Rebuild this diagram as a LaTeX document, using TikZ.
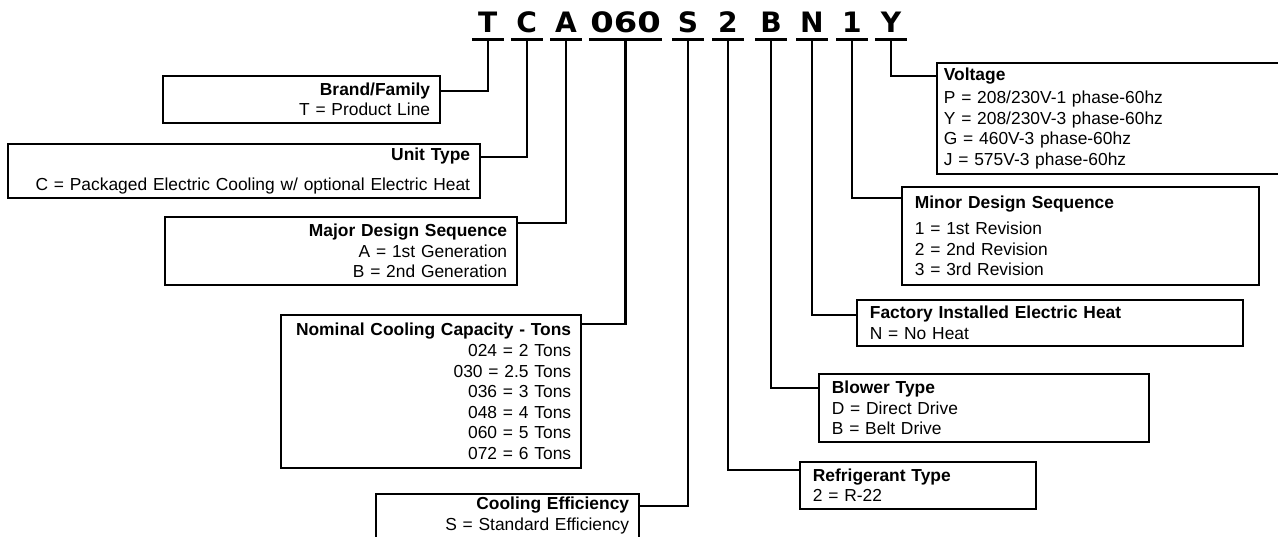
\documentclass[tikz,border=0pt]{standalone}
\usepackage{fontspec}
\setmainfont{Liberation Sans}
\newfontfamily\codefont{DejaVu Sans}
\usetikzlibrary{calc}
\tikzset{
  code/.style={font=\codefont\bfseries\fontsize{16}{16}\selectfont, anchor=base,
               inner xsep=0pt, inner ysep=0.12cm, minimum width=0.62cm},
  uline/.style={line width=1.5pt},
  box/.style={draw, line width=1pt, inner ysep=0pt,
              font=\fontsize{9.9}{11.7}\selectfont},
  lbox/.style={box, anchor=north east, align=right, inner xsep=0.2cm},
  rbox/.style={box, anchor=north west, align=left, inner xsep=0.26cm},
  link/.style={line width=1.3pt},
}

\begin{document}
\begin{tikzpicture}[x=0.02cm, y=-0.02cm]
\useasboundingbox (0,0) rectangle (1278,537);
\clip (0,0) rectangle (1278,537);

% ── Model number ──────────────────────────────────────────────────────────────
\node[code] (cBrand) at (487.7,33) {T};
\node[code] (cUnit)  at (526.7,33) {C};
\node[code] (cMajor) at (566,33)   {A};
\node[code, minimum width=1.44cm] (cCap) at (625.5,33) {\scalebox{1.2}[1]{060}};
\node[code] (cEff)   at (688,33)   {S};
\node[code] (cRef)   at (728,33)   {2};
\node[code] (cBlow)  at (771,33)   {B};
\node[code] (cHeat)  at (812,33)   {N};
\node[code] (cMinor) at (852,33)   {1};
\node[code] (cVolt)  at (891,33)   {Y};

\foreach \n in {cBrand,cUnit,cMajor,cCap,cEff,cRef,cBlow,cHeat,cMinor,cVolt}
  \draw[uline] (\n.south west) -- (\n.south east);

% ── Left boxes ────────────────────────────────────────────────────────────────
\node[lbox, text width=5.14cm, minimum height=0.94cm] (brand) at (441,75)
  {\textbf{Brand/Family}\\T = Product Line};

\node[lbox, text width=9.04cm, minimum height=1.08cm] (unit) at (481,143)
  {\textbf{Unit Type}\\[5pt]C = Packaged Electric Cooling w/ optional Electric Heat};

\node[lbox, text width=6.64cm, minimum height=1.36cm] (major) at (518,216)
  {\textbf{Major Design Sequence}\\A = 1st Generation\\B = 2nd Generation};

\node[lbox, text width=5.6cm, minimum height=3.06cm] (cap) at (582,314)
  {\textbf{Nominal Cooling Capacity - Tons}\\024 = 2 Tons\\030 = 2.5 Tons\\036 = 3 Tons\\048 = 4 Tons\\060 = 5 Tons\\072 = 6 Tons};

\node[lbox, text width=4.86cm, inner ysep=0.06cm, text depth=2cm] (eff) at (640,493)
  {\textbf{Cooling Efficiency}\\S = Standard Efficiency};

% ── Right boxes ───────────────────────────────────────────────────────────────
\node[rbox, inner xsep=0.14cm, text width=7cm, minimum height=2.22cm] (volt) at (936,62)
  {\textbf{Voltage}\\[1.5pt]P = 208/230V-1 phase-60hz\\Y = 208/230V-3 phase-60hz\\G = 460V-3 phase-60hz\\J = 575V-3 phase-60hz};

\node[rbox, text width=6.62cm, minimum height=1.96cm] (minor) at (901,186)
  {\textbf{Minor Design Sequence}\\[3.5pt]1 = 1st Revision\\2 = 2nd Revision\\3 = 3rd Revision};

\node[rbox, text width=7.2cm, minimum height=0.92cm] (heat) at (856,299)
  {\textbf{Factory Installed Electric Heat}\\N = No Heat};

\node[rbox, text width=6.08cm, minimum height=1.36cm] (blow) at (818,373)
  {\textbf{Blower Type}\\D = Direct Drive\\B = Belt Drive};

\node[rbox, text width=4.2cm, minimum height=0.94cm] (ref) at (799,461)
  {\textbf{Refrigerant Type}\\2 = R-22};

% ── Connectors ────────────────────────────────────────────────────────────────
\draw[link] (cBrand.south) |- ($(brand.north east)+(0,16)$);
\draw[link] (cUnit.south)  |- ($(unit.north east)+(0,14)$);
\draw[link] (cMajor.south) |- ($(major.north east)+(0,7)$);
\draw[link] (cCap.south)   |- ($(cap.north east)+(0,10)$);
\draw[link] (cEff.south)   |- ($(eff.north east)+(0,13)$);

\draw[link] (cRef.south)   |- ($(ref.north west)+(0,9)$);
\draw[link] (cBlow.south)  |- ($(blow.north west)+(0,15)$);
\draw[link] (cHeat.south)  |- ($(heat.north west)+(0,16)$);
\draw[link] (cMinor.south) |- ($(minor.north west)+(0,12)$);
\draw[link] (cVolt.south)  |- ($(volt.north west)+(0,14)$);

\end{tikzpicture}
\end{document}
